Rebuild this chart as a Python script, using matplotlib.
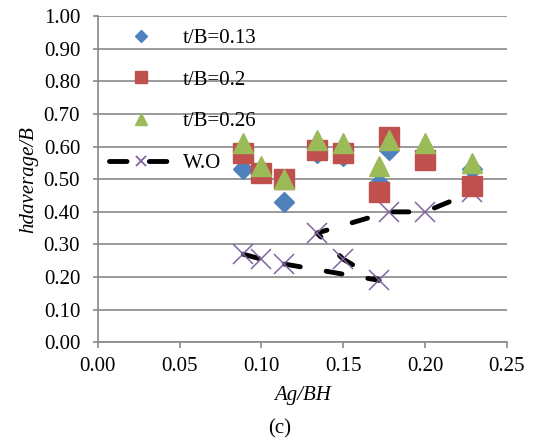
import numpy as np
import matplotlib
matplotlib.use("Agg")
from matplotlib import pyplot as plt
from matplotlib.lines import Line2D

# Ag/BH positions of the tested configurations
ag_bh = [0.089, 0.100, 0.114, 0.134, 0.150, 0.172, 0.178, 0.200, 0.229]

# hd average / B for each gap thickness ratio
h_013 = [0.53, 0.52, 0.43, 0.58, 0.57, 0.49, 0.59, 0.56, 0.53]
h_020 = [0.58, 0.52, 0.50, 0.59, 0.58, 0.46, 0.63, 0.56, 0.48]
h_026 = [0.61, 0.54, 0.50, 0.62, 0.61, 0.54, 0.62, 0.61, 0.55]

# without gap (W.O) series, in the order it was recorded
wo_x = [0.089, 0.100, 0.114, 0.172, 0.150, 0.134, 0.178, 0.200, 0.229]
wo_y = [0.27, 0.255, 0.24, 0.19, 0.255, 0.335, 0.40, 0.40, 0.46]

labels = ["t/B=0.13", "t/B=0.2", "t/B=0.26", "W.O"]
colors = ["#4F81BD", "#C0504D", "#9BBB59", "#8064A2"]

plt.rcParams["font.family"] = ["Liberation Serif", "DejaVu Serif"]
plt.rcParams["font.size"] = 15

fig = plt.figure(figsize=(5.34, 4.38), dpi=100)
ax = fig.add_axes([0.183, 0.2185, 0.766, 0.7445])

grey = "#898989"
dash = (0, (3.3, 5.4))

ax.plot(wo_x, wo_y, color="black", lw=3.5, linestyle=dash,
        dash_capstyle="round", marker="x", markersize=14.5,
        markeredgecolor=colors[3], markeredgewidth=1.1, zorder=3)
ax.plot(ag_bh, h_013, linestyle="none", marker="D", markersize=10.2,
        color=colors[0], zorder=4)
ax.plot(ag_bh, h_020, linestyle="none", marker="s", markersize=14.5,
        color=colors[1], zorder=5)
ax.plot(ag_bh, h_026, linestyle="none", marker="^", markersize=14.5,
        color=colors[2], zorder=6)

ax.set_xlim(0, 0.25)
ax.set_ylim(0, 1.0)
ax.set_xticks(np.arange(0, 0.251, 0.05))
ax.set_yticks(np.arange(0, 1.001, 0.1))
ax.xaxis.set_major_formatter(matplotlib.ticker.FormatStrFormatter("%.2f"))
ax.yaxis.set_major_formatter(matplotlib.ticker.FormatStrFormatter("%.2f"))

ax.grid(axis="y", color=grey, lw=1.2)
ax.set_axisbelow(True)
for side in ["top", "right"]:
    ax.spines[side].set_visible(False)
for side in ["left", "bottom"]:
    ax.spines[side].set_color(grey)
    ax.spines[side].set_linewidth(1.2)
ax.tick_params(axis="x", direction="out", length=4.3, width=1.2, color=grey, pad=6.5)
ax.tick_params(axis="y", direction="out", length=3.6, width=1.2, color=grey, pad=9)

ax.set_xlabel("Ag/BH", fontstyle="italic", labelpad=7)
ax.set_ylabel("hdaverage/B", fontstyle="italic", labelpad=4)
fig.text(0.524, 0.022, "(c)", ha="center", va="center")

# smaller markers in the legend than on the plot
handles = [
    Line2D([], [], linestyle="none", marker="D", markersize=6.1, color=colors[0]),
    Line2D([], [], linestyle="none", marker="s", markersize=9.1, color=colors[1]),
    Line2D([], [], linestyle="none", marker="^", markersize=8.6, color=colors[2]),
    Line2D([], [], color="black", lw=3.5, linestyle=(0, (3.6, 4.6)),
           dash_capstyle="round", marker="x", markersize=7.2,
           markeredgecolor=colors[3], markeredgewidth=1.3),
]
ax.legend(handles=handles, labels=labels, loc="upper left",
          bbox_to_anchor=(0.006, 0.988), frameon=False, handlelength=3.08,
          handletextpad=0.5, labelspacing=1.06, numpoints=1, borderaxespad=0.0)

fig.savefig("out.png", dpi=100)
